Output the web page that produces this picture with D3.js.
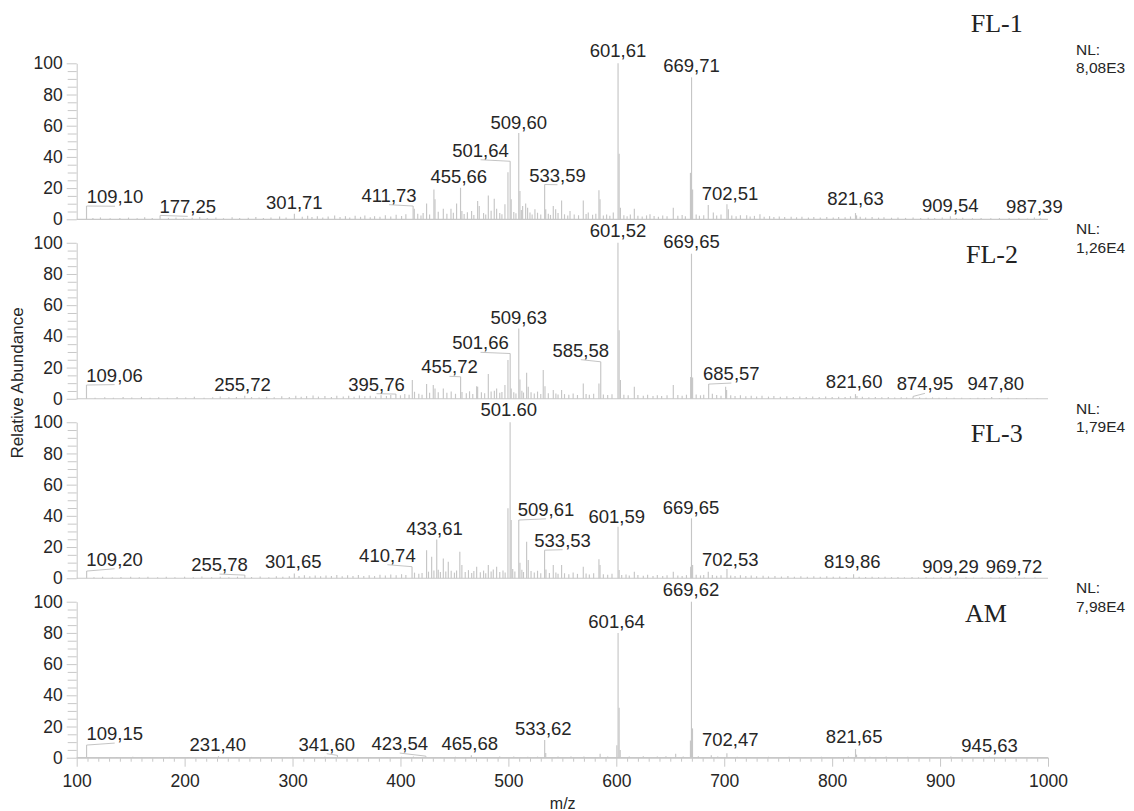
<!DOCTYPE html>
<html>
<head>
<meta charset="utf-8">
<script src="https://cdn.jsdelivr.net/npm/d3@7"></script>
<style>
  html, body { margin: 0; padding: 0; background: #fff; }
  svg { display: block; }
</style>
</head>
<body>
<svg id="chart" width="1134" height="811"></svg>
<script>
// ---------------- DATA ----------------
const mzDomain = [100, 1000];
const xTicks = [100, 200, 300, 400, 500, 600, 700, 800, 900, 1000];
const yTicks = [0, 20, 40, 60, 80, 100];
const panelNames = ["FL-1", "FL-2", "FL-3", "AM"];
const nlValues = ["8,08E3", "1,26E4", "1,79E4", "7,98E4"];

// peaks: [m/z, relative abundance %]
const peaksFL1 = [
  [109.10, 8.5], [115, 0.8], [122, 1.2], [131, 0.6], [140, 0.9], [148, 1.1], [156, 0.7], [163, 1.3], [170, 0.8],
  [177.25, 2.5], [185, 0.9], [192, 1.2], [199, 0.6], [207, 1.0], [214, 1.4], [221, 0.8], [229, 1.1], [236, 0.7],
  [244, 1.3], [251, 0.9], [259, 1.0], [266, 1.5], [273, 0.8], [280, 1.2], [288, 1.8], [294, 1.1], [301.71, 3.5],
  [309, 1.6], [314, 2.2], [318, 1.4], [323, 2.0], [328, 1.2], [333, 1.8], [339, 2.4], [344, 1.5], [349, 2.0],
  [353, 1.1], [358, 2.2], [363, 1.6], [367, 2.5], [372, 1.3], [376, 2.0], [381, 1.6], [386, 2.6], [391, 1.8],
  [396, 2.9], [401, 2.1], [405, 3.2], [411.73, 8.5], [412.8, 6.8], [416, 3.5], [419, 2.4], [421, 4.0],
  [424.2, 10.2], [427, 3.1], [431.0, 19.1], [432.0, 12.8], [435, 4.8], [439.7, 6.8], [443, 3.6], [446.8, 6.8],
  [449, 4.2], [452.0, 10.2], [455.66, 20.2], [456.9, 5.3], [459, 3.4], [462, 4.5], [465.9, 5.3], [468, 2.8],
  [471.5, 11.7], [473.0, 8.5], [477, 4.0], [479, 3.0], [481.4, 15.3], [484, 5.5], [486.9, 13.2], [489.1, 6.8],
  [492, 4.1], [494, 3.2], [496.8, 9.6], [499.6, 30.2], [501.64, 37.2], [502.6, 12.8], [505, 4.6], [507, 3.8],
  [509.60, 55.3], [510.7, 18.1], [512, 6.0], [513.2, 8.5], [516.0, 10.2], [517.8, 7.4], [520, 4.4], [522, 3.0],
  [524.6, 6.4], [527, 4.2], [530, 3.1], [533.59, 22.3], [534.6, 6.4], [537, 3.5], [539, 2.8], [541.6, 8.5],
  [543.8, 6.4], [546, 4.0], [549.3, 12.1], [552, 3.2], [555, 2.4], [557.1, 5.3], [561, 3.1], [565, 2.6],
  [569.4, 12.1], [572, 3.4], [574.0, 4.3], [578, 2.9], [581, 3.6], [583.9, 18.7], [584.9, 12.8], [588, 2.5],
  [591, 3.0], [594, 2.2], [597.2, 4.3], [601.61, 100], [602.6, 42], [603.8, 7.4], [607, 2.6], [610, 2.0],
  [613, 3.1], [616.7, 6.8], [620, 2.3], [624, 1.8], [628, 2.5], [631.2, 3.2], [635, 2.1], [639, 1.7], [643, 2.4],
  [647, 1.9], [652.8, 7.4], [657, 2.2], [661, 2.8], [664, 2.0], [668.7, 29.8], [669.71, 91], [670.7, 19.1],
  [674, 3.0], [677, 2.2], [681, 2.6], [685.2, 9.1], [689.9, 4.3], [693, 2.4], [697, 3.1], [702.51, 9.6],
  [703.8, 6.4], [707, 2.5], [711, 2.0], [715, 2.6], [720.8, 2.6], [724, 1.8], [728, 2.2], [733.1, 3.2],
  [737, 1.6], [742, 2.0], [746, 1.5], [751, 1.8], [756, 1.4], [762, 1.7], [767, 1.3], [772, 1.6], [778, 1.2],
  [783, 1.5], [789, 1.1], [795, 1.4], [801, 1.2], [806, 1.5], [812, 1.3], [817, 1.8], [821.63, 4.0],
  [822.6, 2.5], [826, 1.6], [831, 1.2], [837, 1.4], [843, 1.1], [848, 1.3], [855, 1.0], [861, 1.2], [868, 0.9],
  [875, 1.1], [882, 0.8], [889, 1.0], [895, 0.9], [902, 1.1], [909.54, 2.0], [915, 0.8], [921, 1.0], [930, 0.7],
  [938, 0.9], [947, 0.6], [955, 0.8], [964, 0.6], [973, 0.7], [981, 0.5], [987.39, 1.2], [993, 0.6]
];

const peaksFL2 = [
  [109.06, 8.8], [117, 0.7], [126, 1.0], [134, 0.6], [143, 1.1], [151, 0.8], [160, 1.2], [168, 0.7], [176, 1.0],
  [184, 0.6], [193, 1.1], [201, 0.8], [209, 1.3], [218, 0.7], [226, 1.0], [233, 1.4], [241, 0.9], [248, 1.2],
  [255.72, 2.0], [262, 1.1], [269, 0.8], [276, 1.3], [283, 1.0], [290, 1.6], [297, 1.2], [303, 1.9], [308, 1.3],
  [313, 1.7], [319, 2.1], [324, 1.4], [330, 1.8], [336, 1.2], [341, 2.0], [347, 1.5], [352, 1.9], [357, 1.3],
  [362, 2.1], [367, 1.6], [372, 2.0], [377, 1.4], [382, 2.3], [387, 1.8], [391, 2.4], [395.76, 3.0], [400, 2.2],
  [404, 3.0], [408, 2.6], [411.0, 12.0], [413, 4.5], [417, 3.2], [420, 2.6], [424.2, 9.4], [427, 3.8],
  [430.4, 8.8], [432.0, 6.6], [435, 4.2], [439.7, 6.6], [443, 3.8], [447, 4.6], [451, 3.2], [455.72, 14.1],
  [457, 4.4], [461, 3.6], [464, 4.8], [467, 3.0], [470.6, 8.1], [471.5, 7.7], [475, 4.2], [478, 3.5],
  [481.4, 15.8], [484, 4.6], [487, 5.2], [489.1, 6.6], [492, 3.9], [494, 4.4], [496.8, 8.8], [499.6, 24.8],
  [501.66, 29.0], [502.6, 6.6], [505, 4.1], [507, 3.4], [509.63, 45.0], [510.7, 12.4], [512.5, 5.2],
  [514, 4.0], [516.9, 16.7], [518.4, 7.7], [521, 4.2], [524, 3.4], [527, 4.6], [530, 3.0], [532.3, 18.4],
  [533.9, 8.1], [537, 3.6], [541.6, 5.6], [544, 3.4], [546, 2.8], [549.3, 5.6], [552, 3.0], [556, 2.6],
  [560, 3.4], [564, 2.4], [569.4, 9.8], [572, 3.0], [575, 2.6], [579, 3.2], [583.9, 9.8], [585.58, 23.7],
  [588, 2.8], [592, 2.4], [596, 2.9], [601.52, 100], [602.6, 44], [603.8, 12.0], [607, 2.6], [611, 2.2],
  [616.7, 7.7], [620, 2.4], [625, 2.0], [629, 2.6], [634, 1.8], [638, 2.2], [642, 1.7], [647, 2.3],
  [652.8, 8.8], [657, 2.4], [661, 2.0], [665, 2.6], [668.9, 14.0], [669.65, 93], [670.7, 13.7], [674, 2.8],
  [678, 2.2], [681, 2.5], [685.57, 9.4], [689, 3.2], [693, 2.4], [697, 2.0], [701.3, 7.7], [702.2, 5.6],
  [706, 2.2], [710, 1.8], [715, 2.3], [720, 1.6], [725, 2.0], [730, 1.5], [735, 1.9], [741, 1.4], [746, 1.7],
  [752, 1.3], [758, 1.6], [764, 1.2], [770, 1.5], [776, 1.1], [782, 1.4], [788, 1.2], [794, 1.5], [800, 1.1],
  [806, 1.3], [812, 1.2], [817, 1.6], [821.60, 3.0], [823, 1.8], [828, 1.3], [834, 1.0], [840, 1.2], [846, 0.9],
  [852, 1.1], [858, 0.8], [864, 1.0], [869, 0.8], [874.95, 1.5], [881, 0.9], [887, 0.7], [893, 0.9], [899, 0.6],
  [906, 0.8], [913, 0.6], [920, 0.7], [928, 0.5], [935, 0.7], [941, 0.5], [947.80, 1.2], [955, 0.5], [963, 0.6],
  [971, 0.4], [980, 0.5], [990, 0.4]
];

const peaksFL3 = [
  [109.20, 4.6], [116, 0.6], [124, 0.9], [133, 0.5], [141, 0.8], [150, 1.0], [158, 0.6], [166, 0.9], [175, 0.7],
  [183, 1.0], [191, 0.6], [200, 0.9], [208, 0.7], [216, 1.1], [225, 0.6], [233, 0.9], [241, 0.7], [249, 1.0],
  [255.78, 2.0], [262, 0.8], [270, 1.1], [278, 0.7], [285, 1.2], [291, 0.9], [297, 1.3], [301.65, 3.1],
  [306, 1.5], [311, 1.9], [316, 1.3], [321, 1.7], [326, 1.2], [331, 1.8], [336, 1.4], [341, 2.0], [346, 1.3],
  [351, 1.9], [356, 1.4], [361, 2.1], [366, 1.5], [371, 1.9], [376, 1.4], [381, 2.2], [386, 1.7], [391, 2.4],
  [396, 1.9], [401, 2.6], [405, 2.1], [410.74, 7.4], [413, 3.6], [417, 2.8], [420, 3.4], [424.2, 18.0],
  [426, 4.2], [428.9, 13.8], [431, 5.0], [433.61, 24.9], [435, 5.4], [437, 4.0], [439.7, 12.7], [442, 4.4],
  [444.3, 10.6], [447, 4.8], [450, 3.6], [452, 5.0], [455.0, 17.0], [456.9, 8.5], [460, 4.0], [463, 5.2],
  [466, 3.4], [468, 4.6], [470.6, 7.4], [474, 3.8], [477, 4.9], [479, 3.2], [481.4, 8.5], [484, 4.4], [486, 5.6],
  [489.1, 7.4], [492, 4.0], [495, 5.0], [497, 3.6], [499.6, 44.8], [501.60, 100], [502.6, 37.3], [504, 6.0],
  [506, 4.4], [509.61, 37.3], [510.7, 10.0], [512.5, 5.4], [514, 4.0], [516.9, 23.4], [518.4, 11.7], [521, 4.6],
  [524, 3.6], [527, 4.8], [530, 3.2], [533.53, 18.0], [534.8, 5.6], [538, 3.4], [541.6, 8.5], [544, 3.6],
  [546, 2.8], [549.3, 8.5], [552, 3.2], [556, 2.6], [560, 3.6], [564, 2.8], [569.4, 7.4], [572, 3.0], [575, 2.4],
  [579, 3.2], [583.9, 12.1], [584.9, 8.5], [588, 2.6], [592, 2.2], [596, 2.8], [601.59, 33.0], [602.6, 5.3],
  [605, 2.0], [609, 2.4], [612, 1.8], [616.7, 4.2], [620, 2.0], [625, 1.6], [629, 2.2], [634, 1.5], [638, 2.0],
  [643, 1.4], [647, 1.9], [652.8, 4.2], [657, 1.8], [661, 1.5], [665, 2.0], [668.9, 7.4], [669.65, 38.4],
  [670.7, 8.5], [674, 2.2], [678, 1.8], [681, 2.0], [685.2, 4.2], [689, 2.0], [693, 1.6], [697, 1.9],
  [702.53, 5.9], [706, 1.8], [710, 1.5], [715, 1.9], [720, 1.4], [725, 1.7], [730, 1.3], [736, 1.6], [741, 1.2],
  [747, 1.5], [753, 1.1], [759, 1.4], [765, 1.0], [771, 1.3], [777, 1.0], [783, 1.2], [789, 0.9], [795, 1.2],
  [801, 0.9], [807, 1.1], [813, 0.8], [819.86, 2.5], [825, 1.0], [831, 0.8], [837, 1.0], [843, 0.7], [849, 0.9],
  [855, 0.7], [861, 0.8], [867, 0.6], [874, 0.8], [880, 0.6], [887, 0.7], [894, 0.5], [901, 0.6], [909.29, 1.0],
  [916, 0.5], [924, 0.6], [931, 0.4], [939, 0.5], [947, 0.4], [955, 0.5], [962, 0.4], [969.72, 0.8], [978, 0.4],
  [988, 0.4]
];

const peaksAM = [
  [109.15, 8.1], [121, 0.5], [137, 0.4], [152, 0.6], [168, 0.4], [186, 0.5], [203, 0.4], [216, 0.5],
  [231.40, 1.0], [247, 0.4], [262, 0.5], [281, 0.4], [300, 0.5], [318, 0.4], [330, 0.6], [341.60, 1.5],
  [356, 0.4], [372, 0.5], [388, 0.4], [401, 0.6], [412, 0.7], [423.54, 1.0], [437, 0.5], [451, 0.6],
  [465.68, 1.5], [479, 0.5], [492, 0.7], [505, 0.8], [518, 0.6], [527, 0.7], [533.62, 11.3], [534.6, 3.0],
  [546, 0.7], [558, 0.8], [570, 0.7], [585, 2.5], [592, 0.8], [600.5, 8.0], [601.64, 80], [602.6, 32],
  [603.6, 5.0], [612, 0.8], [625, 0.9], [638, 0.7], [646, 0.9], [655, 2.5], [662, 0.8], [668.7, 11.0],
  [669.62, 100], [670.6, 18.8], [676, 1.0], [688, 1.5], [694, 0.8], [702.47, 2.8], [712, 0.6], [724, 0.5],
  [741, 0.6], [760, 0.6], [775, 0.5], [790, 0.6], [806, 0.5], [815, 0.8], [821.65, 5.5], [822.6, 2.0],
  [835, 0.6], [850, 0.8], [870, 0.6], [890, 0.5], [910, 0.8], [928, 0.4], [945.63, 0.6], [962, 0.4], [985, 0.4]
];

// labels: [text, peak m/z, peak %, label centre m/z, label baseline %]
const labelsFL1 = [
  ["109,10", 109.10, 8.5, 135.5, 10.3], ["177,25", 177.25, 2.5, 202.9, 3.8], ["301,71", 301.71, 3.5, 301.7, 6.4],
  ["411,73", 411.73, 8.5, 389.4, 11.3], ["455,66", 455.66, 20.2, 454.1, 23.1], ["501,64", 501.64, 37.2, 474.2, 40.1],
  ["509,60", 509.60, 55.3, 509.6, 57.7], ["533,59", 533.59, 22.3, 545.5, 24.1], ["601,61", 601.61, 100, 601.6, 103.8],
  ["669,71", 669.71, 91, 669.7, 94.6], ["702,51", 702.51, 9.6, 705.4, 12.4], ["821,63", 821.63, 4.0, 821.6, 9.2],
  ["909,54", 909.54, 2.0, 909.5, 4.9], ["987,39", 987.39, 1.2, 987.4, 3.8]
];
const labelsFL2 = [
  ["109,06", 109.06, 8.8, 135.1, 11.0], ["255,72", 255.72, 2.0, 253.6, 5.2], ["395,76", 395.76, 3.0, 377.8, 5.2],
  ["455,72", 455.72, 14.1, 445.4, 16.3], ["501,66", 501.66, 29.0, 474.2, 31.7], ["509,63", 509.63, 45.0, 509.6, 48.0],
  ["585,58", 585.58, 23.7, 567.1, 27.0], ["601,52", 601.52, 100, 601.5, 104.0], ["669,65", 669.65, 93, 669.6, 96.5],
  ["685,57", 685.57, 9.4, 706.6, 12.0], ["821,60", 821.60, 3.0, 820.4, 7.1], ["874,95", 874.95, 1.5, 886.0, 5.4],
  ["947,80", 947.80, 1.2, 951.7, 5.4]
];
const labelsFL3 = [
  ["109,20", 109.20, 4.6, 135.1, 8.0], ["255,78", 255.78, 2.0, 232.3, 4.6], ["301,65", 301.65, 3.1, 300.7, 6.7],
  ["410,74", 410.74, 7.4, 387.9, 10.6], ["433,61", 433.61, 24.9, 431.5, 28.0], ["501.60", 501.60, 100, 500.4, 104.0],
  ["509,61", 509.61, 37.3, 534.9, 40.0], ["533,53", 533.53, 18.0, 550.2, 20.2], ["601,59", 601.59, 33.0, 600.4, 35.6],
  ["669,65", 669.65, 38.4, 669.2, 41.0], ["702,53", 702.53, 5.9, 705.6, 7.8], ["819,86", 819.86, 2.5, 818.6, 6.7],
  ["909,29", 909.29, 1.0, 909.7, 3.6], ["969,72", 969.72, 0.8, 968.5, 3.6]
];
const labelsAM = [
  ["109,15", 109.15, 8.1, 135.2, 11.3], ["231,40", 231.40, 1.0, 230.8, 4.5], ["341,60", 341.60, 1.5, 331.7, 4.5],
  ["423,54", 423.54, 1.0, 399.3, 4.9], ["465,68", 465.68, 1.5, 464.2, 4.9], ["533,62", 533.62, 11.3, 532.4, 14.5],
  ["601,64", 601.64, 80, 600.3, 83.3], ["669,62", 669.62, 100, 669.2, 103.6], ["702,47", 702.47, 2.8, 705.6, 7.7],
  ["821,65", 821.65, 5.5, 820.4, 9.6], ["945,63", 945.63, 0.6, 945.9, 3.8]
];

const allPeaks = [peaksFL1, peaksFL2, peaksFL3, peaksAM];
const allLabels = [labelsFL1, labelsFL2, labelsFL3, labelsAM];

// ---------------- LAYOUT ----------------
const W = 1134, H = 811;
const plotLeft = 76.7, plotRight = 1048;
const firstTop = 63.3, panelH = 156, panelStep = 179.47;
const nameOffsets = [[996.7, -31], [992, 20], [996.7, 19.5], [986, 20]]; // [x, baseline relative to panel top]

const sans = "'Liberation Sans', Arial, Helvetica, sans-serif";
const serif = "'Liberation Serif', 'Times New Roman', serif";
const axisColor = "#c8c8c8";
const peakColor = "#c6c6c6";
const textColor = "#262626";

const svg = d3.select("#chart");
svg.append("rect").attr("width", W).attr("height", H).attr("fill", "#fff");

const x = d3.scaleLinear().domain(mzDomain).range([plotLeft, plotRight]);

allPeaks.forEach((peaks, i) => {
  const top = firstTop + i * panelStep;
  const y = d3.scaleLinear().domain([0, 100]).range([top + panelH, top]);
  const g = svg.append("g");

  // minor y ticks (every 5)
  const minorVals = d3.range(0, 101, 5).filter(v => v % 20 !== 0);
  const yMinor = g.append("g").attr("transform", `translate(${plotLeft},0)`)
    .call(d3.axisLeft(y).tickValues(minorVals).tickSize(9).tickSizeOuter(0).tickFormat(""));
  yMinor.select(".domain").remove();
  yMinor.selectAll("line").attr("stroke", axisColor);

  // major y axis
  const yAx = g.append("g").attr("transform", `translate(${plotLeft},0)`)
    .call(d3.axisLeft(y).tickValues(yTicks).tickSize(10).tickSizeOuter(0).tickPadding(4));
  yAx.select(".domain").attr("stroke", axisColor);
  yAx.selectAll("line").attr("stroke", axisColor);
  yAx.selectAll("text").attr("fill", textColor).style("font-family", sans).style("font-size", "17.5px");

  // baseline
  g.append("line").attr("x1", x(mzDomain[0])).attr("x2", x(mzDomain[1]))
    .attr("y1", y(0)).attr("y2", y(0)).attr("stroke", axisColor).attr("stroke-width", 1.2);

  // peaks
  g.append("g").selectAll("line").data(peaks).join("line")
    .attr("x1", d => x(d[0])).attr("x2", d => x(d[0]))
    .attr("y1", y(0)).attr("y2", d => y(d[1]))
    .attr("stroke", peakColor).attr("stroke-width", 1.15);

  // peak labels + leaders
  const labs = allLabels[i];
  const lg = g.append("g");
  labs.forEach(l => {
    const px = x(l[1]), py = y(l[2]);
    const lx = x(l[3]), ly = y(l[4]);
    if (Math.abs(px - lx) > 6) {
      lg.append("line")
        .attr("x1", px).attr("y1", py).attr("x2", lx).attr("y2", ly + 3)
        .attr("stroke", "#bdbdbd").attr("stroke-width", 0.9);
    }
    lg.append("text").attr("x", lx).attr("y", ly).attr("text-anchor", "middle")
      .attr("fill", textColor).style("font-family", sans).style("font-size", "18.5px").text(l[0]);
  });

  // panel name
  g.append("text").attr("x", nameOffsets[i][0]).attr("y", top + nameOffsets[i][1])
    .attr("text-anchor", "middle").attr("fill", "#222").style("font-family", serif).style("font-size", "26px")
    .text(panelNames[i]);

  // NL
  g.append("text").attr("x", 1076).attr("y", top - 8.5).attr("fill", textColor)
    .style("font-family", sans).style("font-size", "15.5px").text("NL:");
  g.append("text").attr("x", 1076).attr("y", top + 10).attr("fill", textColor)
    .style("font-family", sans).style("font-size", "15.5px").text(nlValues[i]);

  // bottom axis on last panel
  if (i === allPeaks.length - 1) {
    const minorX = d3.range(100, 1001, 10).filter(v => v % 100 !== 0);
    const xMinor = g.append("g").attr("transform", `translate(0,${y(0)})`)
      .call(d3.axisBottom(x).tickValues(minorX).tickSize(4).tickSizeOuter(0).tickFormat(""));
    xMinor.select(".domain").remove();
    xMinor.selectAll("line").attr("stroke", axisColor);
    const xAx = g.append("g").attr("transform", `translate(0,${y(0)})`)
      .call(d3.axisBottom(x).tickValues(xTicks).tickSize(9).tickSizeOuter(0).tickPadding(7.5)
        .tickFormat(d3.format("d")));
    xAx.select(".domain").attr("stroke", axisColor);
    xAx.selectAll("line").attr("stroke", axisColor);
    xAx.selectAll("text").attr("fill", textColor).style("font-family", sans).style("font-size", "17.5px");
  }
});

// axis titles
svg.append("text").attr("transform", "translate(23,383) rotate(-90)").attr("text-anchor", "middle")
  .attr("fill", textColor).style("font-family", sans).style("font-size", "17px").text("Relative Abundance");
svg.append("text").attr("x", 562.7).attr("y", 809).attr("text-anchor", "middle")
  .attr("fill", textColor).style("font-family", sans).style("font-size", "16px").text("m/z");
</script>
</body>
</html>
